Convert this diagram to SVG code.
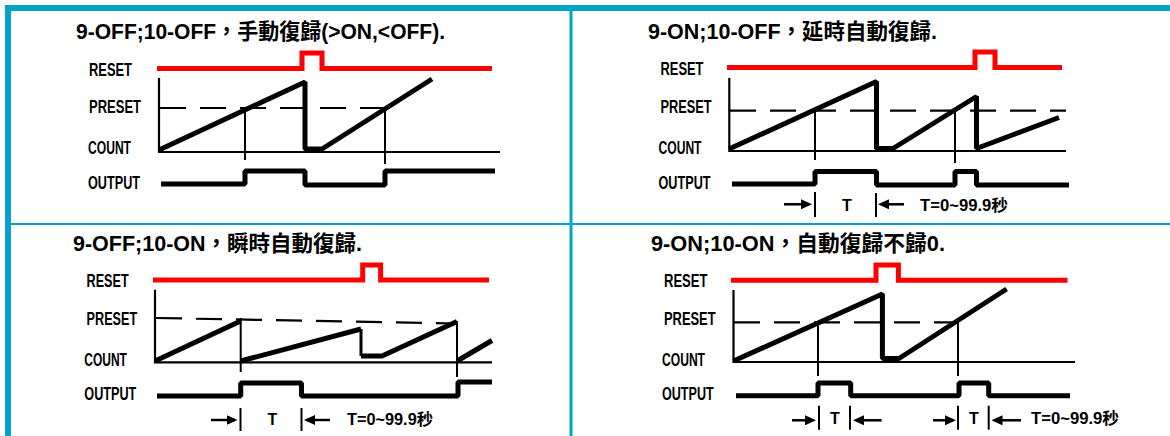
<svg xmlns="http://www.w3.org/2000/svg" width="1170" height="436" viewBox="0 0 1170 436">
<defs>
<marker id="ah" markerUnits="userSpaceOnUse" markerWidth="12" markerHeight="10" refX="8" refY="5" orient="auto">
<path d="M0,0 L11,5 L0,10 z" fill="#000"/>
</marker>
</defs>
<style>
.frame{fill:#02A2C9}
.title{font-family:"Liberation Sans","Noto Sans CJK TC",sans-serif;font-weight:bold;font-size:22px;fill:#000}
.lbl{font-family:"Liberation Sans",sans-serif;font-weight:bold;font-size:17.5px;fill:#000}
.note{font-family:"Liberation Sans","Noto Sans CJK TC",sans-serif;font-weight:bold;font-size:16px;fill:#000}
.tee{font-family:"Liberation Sans",sans-serif;font-weight:bold;font-size:16px;fill:#000;text-anchor:middle}
.reset{fill:none;stroke:#FF0000;stroke-width:5}
.axis{fill:none;stroke:#000;stroke-width:2.2}
.dash{fill:none;stroke:#000;stroke-width:2.2;stroke-dasharray:26 14}
.wave{fill:none;stroke:#000;stroke-width:5;stroke-linejoin:bevel}
.thin{fill:none;stroke:#000;stroke-width:2}
.mid{fill:none;stroke:#000;stroke-width:3}
.arr{fill:none;stroke:#000;stroke-width:2.5;marker-end:url(#ah)}
</style>
<rect width="1170" height="436" fill="#fff"/>
<g id="frame">
<rect class="frame" x="5" y="5" width="1165" height="6"/>
<rect class="frame" x="5" y="5" width="6" height="431"/>
<rect class="frame" x="569.5" y="11" width="3" height="425"/>
<rect class="frame" x="11" y="223" width="1159" height="2"/>
</g>
<g id="panel1">
<text class="title" x="76" y="39" textLength="369" lengthAdjust="spacingAndGlyphs">9-OFF;10-OFF，手動復歸(&gt;ON,&lt;OFF).</text>
<text class="lbl" x="89" y="76" textLength="43" lengthAdjust="spacingAndGlyphs">RESET</text>
<text class="lbl" x="89" y="113" textLength="52" lengthAdjust="spacingAndGlyphs">PRESET</text>
<text class="lbl" x="88" y="154" textLength="43" lengthAdjust="spacingAndGlyphs">COUNT</text>
<text class="lbl" x="88" y="189" textLength="52" lengthAdjust="spacingAndGlyphs">OUTPUT</text>
<polyline class="reset" points="157,68.5 302,68.5 302,53 322,53 322,68.5 492,68.5"/>
<polyline class="axis" points="159,78 159,152 500,152"/>
<line class="dash" x1="160" y1="108" x2="386" y2="108"/>
<polyline class="wave" points="159,150 305,82 305,149 322,149 432,79"/>
<line class="thin" x1="245" y1="108" x2="245" y2="160"/>
<line class="thin" x1="385" y1="108" x2="385" y2="164"/>
<polyline class="wave" points="161,184 245,184 245,171 305,171 305,185 385,185 385,171 495,171"/>
</g>
<g id="panel2">
<text class="title" x="648" y="39" textLength="289" lengthAdjust="spacingAndGlyphs">9-ON;10-OFF，延時自動復歸.</text>
<text class="lbl" x="660.5" y="75" textLength="43" lengthAdjust="spacingAndGlyphs">RESET</text>
<text class="lbl" x="660.5" y="113" textLength="51" lengthAdjust="spacingAndGlyphs">PRESET</text>
<text class="lbl" x="658.5" y="154" textLength="43" lengthAdjust="spacingAndGlyphs">COUNT</text>
<text class="lbl" x="658.5" y="189" textLength="52" lengthAdjust="spacingAndGlyphs">OUTPUT</text>
<polyline class="reset" points="727,67.5 975,67.5 975,52 995,52 995,67.5 1062,67.5"/>
<polyline class="axis" points="729.3,78 729.3,151 1066,151"/>
<line class="dash" x1="730" y1="110.7" x2="1066" y2="110.7"/>
<polyline class="wave" points="729,149 876.5,81.5 876.5,148.5 893,148.5 976.5,96.5 976.5,148.5 1059,117.5"/>
<line class="thin" x1="815" y1="110.7" x2="815" y2="160"/>
<line class="thin" x1="955" y1="110.7" x2="955" y2="163"/>
<polyline class="wave" points="732,184 815,184 815,171.5 876.5,171.5 876.5,185 955,185 955,171.5 976.5,171.5 976.5,185 1069,185"/>
<line class="arr" x1="784" y1="204.3" x2="809" y2="204.3"/>
<line class="thin" x1="815" y1="192" x2="815" y2="217"/>
<text class="tee" x="847" y="211">T</text>
<line class="thin" x1="876" y1="193" x2="876" y2="217"/>
<line class="arr" x1="904" y1="204.3" x2="881" y2="204.3"/>
<text class="note" x="920" y="211" textLength="88" lengthAdjust="spacingAndGlyphs">T=0~99.9秒</text>
</g>
<g id="panel3">
<text class="title" x="73" y="251" textLength="289" lengthAdjust="spacingAndGlyphs">9-OFF;10-ON，瞬時自動復歸.</text>
<text class="lbl" x="86.6" y="287" textLength="42" lengthAdjust="spacingAndGlyphs">RESET</text>
<text class="lbl" x="86.6" y="325" textLength="50.5" lengthAdjust="spacingAndGlyphs">PRESET</text>
<text class="lbl" x="84.3" y="366" textLength="42.6" lengthAdjust="spacingAndGlyphs">COUNT</text>
<text class="lbl" x="84.3" y="400" textLength="52" lengthAdjust="spacingAndGlyphs">OUTPUT</text>
<polyline class="reset" points="153,280 362.7,280 362.7,265 380.6,265 380.6,280 489,280"/>
<polyline class="axis" points="155,289.7 155,362.3 492,362.3"/>
<line class="dash" x1="156" y1="318" x2="458" y2="323.5"/>
<line class="wave" x1="155" y1="361" x2="240.7" y2="321"/>
<line class="wave" x1="240.7" y1="361" x2="361" y2="329"/>
<line class="mid" x1="361" y1="329" x2="361" y2="356"/>
<polyline class="wave" points="361,356 382,356 457,321.5"/>
<line class="wave" x1="457" y1="361" x2="492" y2="340.5"/>
<line class="thin" x1="240.7" y1="318" x2="240.7" y2="372"/>
<line class="thin" x1="457" y1="321" x2="457" y2="377"/>
<polyline class="wave" points="157,396 240.7,396 240.7,383 301.5,383 301.5,396 458,396 458,382 492,382"/>
<line class="arr" x1="211" y1="420" x2="234.5" y2="420"/>
<line class="thin" x1="240.5" y1="408" x2="240.5" y2="431"/>
<text class="tee" x="272.4" y="425">T</text>
<line class="thin" x1="301.5" y1="408" x2="301.5" y2="431"/>
<line class="arr" x1="330" y1="420" x2="307" y2="420"/>
<text class="note" x="347" y="425" textLength="86" lengthAdjust="spacingAndGlyphs">T=0~99.9秒</text>
</g>
<g id="panel4">
<text class="title" x="651" y="251" textLength="294" lengthAdjust="spacingAndGlyphs">9-ON;10-ON，自動復歸不歸0.</text>
<text class="lbl" x="664" y="287" textLength="43.4" lengthAdjust="spacingAndGlyphs">RESET</text>
<text class="lbl" x="664" y="325" textLength="51.6" lengthAdjust="spacingAndGlyphs">PRESET</text>
<text class="lbl" x="662" y="366" textLength="43" lengthAdjust="spacingAndGlyphs">COUNT</text>
<text class="lbl" x="662" y="400" textLength="51.7" lengthAdjust="spacingAndGlyphs">OUTPUT</text>
<polyline class="reset" points="731,280.3 876,280.3 876,265 898.4,265 898.4,280.3 1067.5,280.3"/>
<polyline class="axis" points="733.5,290 733.5,362 1075,362"/>
<line class="dash" x1="734" y1="322.3" x2="959" y2="322.3"/>
<polyline class="wave" points="733.5,361 882.4,294 882.4,358.5 899,358.5 1006.6,289"/>
<line class="thin" x1="818" y1="322.3" x2="818" y2="376"/>
<line class="thin" x1="958" y1="322.3" x2="958" y2="376"/>
<polyline class="wave" points="736,395.7 818,395.7 818,383 850.7,383 850.7,395.7 959,395.7 959,383 988.7,383 988.7,395.7 1070,395.7"/>
<line class="arr" x1="792" y1="420.3" x2="813" y2="420.3"/>
<line class="thin" x1="819" y1="405.7" x2="819" y2="429.7"/>
<text class="tee" x="835" y="424">T</text>
<line class="thin" x1="850" y1="405.7" x2="850" y2="429.7"/>
<line class="arr" x1="881.6" y1="420.3" x2="856" y2="420.3"/>
<line class="arr" x1="933" y1="420.3" x2="953" y2="420.3"/>
<line class="thin" x1="958" y1="405.7" x2="958" y2="429.7"/>
<text class="tee" x="974" y="424">T</text>
<line class="thin" x1="988.7" y1="405.7" x2="988.7" y2="429.7"/>
<line class="arr" x1="1021" y1="420.3" x2="994.5" y2="420.3"/>
<text class="note" x="1031" y="424" textLength="88" lengthAdjust="spacingAndGlyphs">T=0~99.9秒</text>
</g>
</svg>
